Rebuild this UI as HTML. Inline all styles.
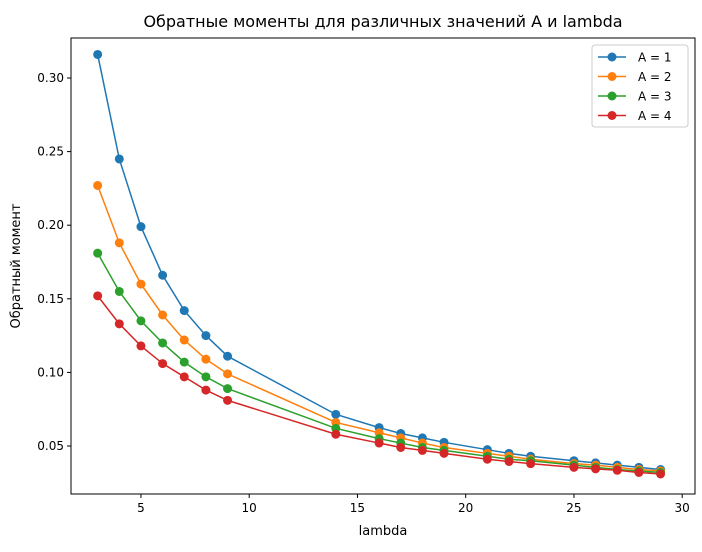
<!DOCTYPE html>
<html><head><meta charset="utf-8"><style>
body{margin:0;background:#fff;font-family:"Liberation Sans","DejaVu Sans",sans-serif;}
svg text{font-family:"DejaVu Sans","Liberation Sans",sans-serif;}
</style></head><body>
<svg id="chart" width="702" height="547" xmlns="http://www.w3.org/2000/svg"></svg>
<script>
const xValues=[3,4,5,6,7,8,9,14,16,17,18,19,21,22,23,25,26,27,28,29];
const seriesA1=[0.316,0.245,0.199,0.166,0.142,0.125,0.111,0.0715,0.0625,0.0585,0.0555,0.0525,0.0475,0.045,0.043,0.040,0.0385,0.037,0.0355,0.034];
const seriesA2=[0.227,0.188,0.160,0.139,0.122,0.109,0.099,0.066,0.059,0.0555,0.052,0.049,0.045,0.043,0.041,0.038,0.037,0.0355,0.034,0.033];
const seriesA3=[0.181,0.155,0.135,0.120,0.107,0.097,0.089,0.062,0.055,0.052,0.049,0.047,0.043,0.041,0.040,0.037,0.0355,0.034,0.033,0.032];
const seriesA4=[0.152,0.133,0.118,0.106,0.097,0.088,0.081,0.058,0.052,0.049,0.047,0.045,0.041,0.0395,0.038,0.0355,0.0345,0.0335,0.032,0.031];
const seriesLabels=["A = 1","A = 2","A = 3","A = 4"];
const colors=["#1f77b4","#ff7f0e","#2ca02c","#d62728"];
const xTicks=[5,10,15,20,25,30];
const yTicks=[0.05,0.10,0.15,0.20,0.25,0.30];
const yTickLabels=["0.05","0.10","0.15","0.20","0.25","0.30"];

const svg=document.getElementById('chart');
const NS="http://www.w3.org/2000/svg";
const L=71,R=695,T=38,B=494;
const xs=v=>32.7+v*21.65;
const ys=v=>519.6-v*1472;
function mk(tag,attrs,parent){const e=document.createElementNS(NS,tag);for(const k in attrs)e.setAttribute(k,attrs[k]);(parent||svg).appendChild(e);return e;}

const title=mk('text',{x:383,y:27,'text-anchor':'middle','font-size':16,fill:'#000'});


title.textContent='Обратные моменты для различных значений A и lambda';

const frame=mk('rect',{x:L,y:T,width:R-L,height:B-T,fill:'none',stroke:'#000','stroke-width':1});



xTicks.forEach(t=>{
  const g=mk('g',{});
  
  
  mk('line',{x1:xs(t),x2:xs(t),y1:B,y2:B+4,stroke:'#000'},g);
  const tx=mk('text',{x:xs(t),y:B+18,'text-anchor':'middle','font-size':12},g);tx.textContent=t;
});
yTicks.forEach((t,i)=>{
  const g=mk('g',{});
  
  
  mk('line',{x1:L-4,x2:L,y1:ys(t),y2:ys(t),stroke:'#000'},g);
  const tx=mk('text',{x:L-7,y:ys(t)+4,'text-anchor':'end','font-size':12},g);tx.textContent=yTickLabels[i];
});
const xl=mk('text',{x:383,y:535,'text-anchor':'middle','font-size':13});


xl.textContent='lambda';
const yl=mk('text',{x:20,y:266,'text-anchor':'middle','font-size':13,transform:'rotate(-90 20 266)'});


yl.textContent='Обратный  момент';

[seriesA1,seriesA2,seriesA3,seriesA4].forEach((s,i)=>{
  const g=mk('g',{});
  
  
  mk('polyline',{points:s.map((v,j)=>xs(xValues[j])+','+ys(v)).join(' '),fill:'none',stroke:colors[i],'stroke-width':1.5},g);
  s.forEach((v,j)=>{
    const c=mk('circle',{cx:xs(xValues[j]),cy:ys(v),r:4.5,fill:colors[i]},g);
    
    
  });
});

const lg=mk('g',{});


mk('rect',{x:592,y:45,width:96,height:82,rx:3,fill:'#fff',stroke:'#ccc'},lg);
seriesLabels.forEach((lab,i)=>{
  const y=57+i*19.5;
  const e=mk('g',{},lg);
  
  
  mk('line',{x1:598,x2:626,y1:y,y2:y,stroke:colors[i],'stroke-width':1.5},e);
  mk('circle',{cx:612,cy:y,r:4.5,fill:colors[i]},e);
  const t=mk('text',{x:638,y:y+4.5,'font-size':12},e);t.textContent=lab;
});
</script>
</body></html>
